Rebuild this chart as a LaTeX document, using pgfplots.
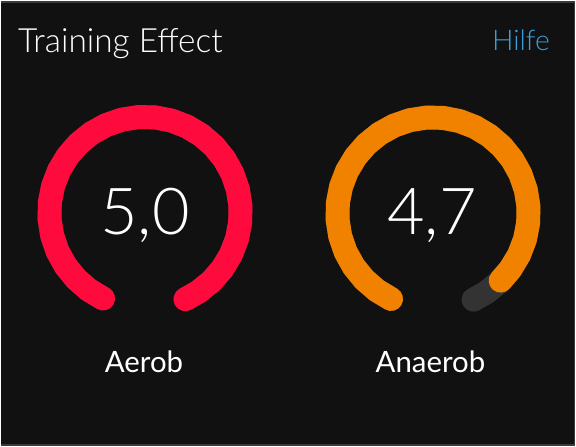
\documentclass[border=0pt]{standalone}
\usepackage{pgfplots}
\pgfplotsset{compat=1.18}
\usepackage{fontspec}
\setmainfont{Lato Light}
\newfontfamily\labelfont{Lato}
\definecolor{bg}{HTML}{111111}
\definecolor{gaugered}{HTML}{FF0A3C}
\definecolor{gaugeorange}{HTML}{F08200}
\definecolor{track}{HTML}{333333}
\definecolor{hilfe}{HTML}{3A9EDC}
\definecolor{frame}{HTML}{3A3A3A}
\begin{document}
\begin{tikzpicture}
\fill[bg] (0,0) rectangle (576pt,447pt);
\begin{axis}[
  at={(0,0)}, anchor=south west,
  width=576pt, height=447pt, scale only axis,
  xmin=0, xmax=576, ymin=0, ymax=447,
  hide axis, clip=false,
  gauge/.style={data cs=polar, line width=24pt, line cap=round, line join=round, no markers},
]
% Aerob gauge: track and value 5,0 (full arc)
\addplot[gauge, track, xshift=144.5pt, yshift=234.5pt] coordinates {
(244,96) (234,96) (224,96) (214,96) (204,96) (194,96) (184,96) (174,96) (164,96) (154,96)
(144,96) (134,96) (124,96) (114,96) (104,96) (94,96) (84,96) (74,96) (64,96) (54,96)
(44,96) (34,96) (24,96) (14,96) (4,96) (-6,96) (-16,96) (-26,96) (-36,96) (-46,96) (-56,96) (-65,96)};
\addplot[gauge, gaugered, xshift=144.5pt, yshift=234.5pt] coordinates {
(244,96) (234,96) (224,96) (214,96) (204,96) (194,96) (184,96) (174,96) (164,96) (154,96)
(144,96) (134,96) (124,96) (114,96) (104,96) (94,96) (84,96) (74,96) (64,96) (54,96)
(44,96) (34,96) (24,96) (14,96) (4,96) (-6,96) (-16,96) (-26,96) (-36,96) (-46,96) (-56,96) (-65,96)};
% Anaerob gauge: track and value 4,7
\addplot[gauge, track, xshift=433.5pt, yshift=234pt] coordinates {
(244,96) (234,96) (224,96) (214,96) (204,96) (194,96) (184,96) (174,96) (164,96) (154,96)
(144,96) (134,96) (124,96) (114,96) (104,96) (94,96) (84,96) (74,96) (64,96) (54,96)
(44,96) (34,96) (24,96) (14,96) (4,96) (-6,96) (-16,96) (-26,96) (-36,96) (-46,96) (-56,96) (-65,96)};
\addplot[gauge, gaugeorange, xshift=433.5pt, yshift=234pt] coordinates {
(244,96) (234,96) (224,96) (214,96) (204,96) (194,96) (184,96) (174,96) (164,96) (154,96)
(144,96) (134,96) (124,96) (114,96) (104,96) (94,96) (84,96) (74,96) (64,96) (54,96)
(44,96) (34,96) (24,96) (14,96) (4,96) (-6,96) (-16,96) (-26,96) (-36,96) (-45,96)};
% texts
\node[anchor=base west, text=white, inner sep=0pt, font=\fontsize{33.5}{36}\selectfont] at (axis cs:17,395) {Training Effect};
\node[anchor=base east, text=hilfe, inner sep=0pt, font=\fontsize{28.5}{31}\selectfont] at (axis cs:551,397) {Hilfe};
\node[anchor=base, text=white, inner sep=0pt, font=\fontsize{65}{68}\selectfont] at (axis cs:144.5,212) {5,0};
\node[anchor=base, text=white, inner sep=0pt, font=\fontsize{65}{68}\selectfont] at (axis cs:432.5,212) {4,7};
\node[anchor=base, text=white, inner sep=0pt, font=\labelfont\fontsize{29.5}{31}\selectfont] at (axis cs:143.5,74) {Aerob};
\node[anchor=base, text=white, inner sep=0pt, font=\labelfont\fontsize{29.5}{31}\selectfont] at (axis cs:431,74) {Anaerob};
\end{axis}
\draw[frame, line width=2pt] (0,446pt) -- (576pt,446pt);
\draw[frame, line width=2pt] (0,1pt) -- (576pt,1pt);
\draw[frame, line width=1.5pt] (575.25pt,0) -- (575.25pt,447pt);
\end{tikzpicture}
\end{document}
